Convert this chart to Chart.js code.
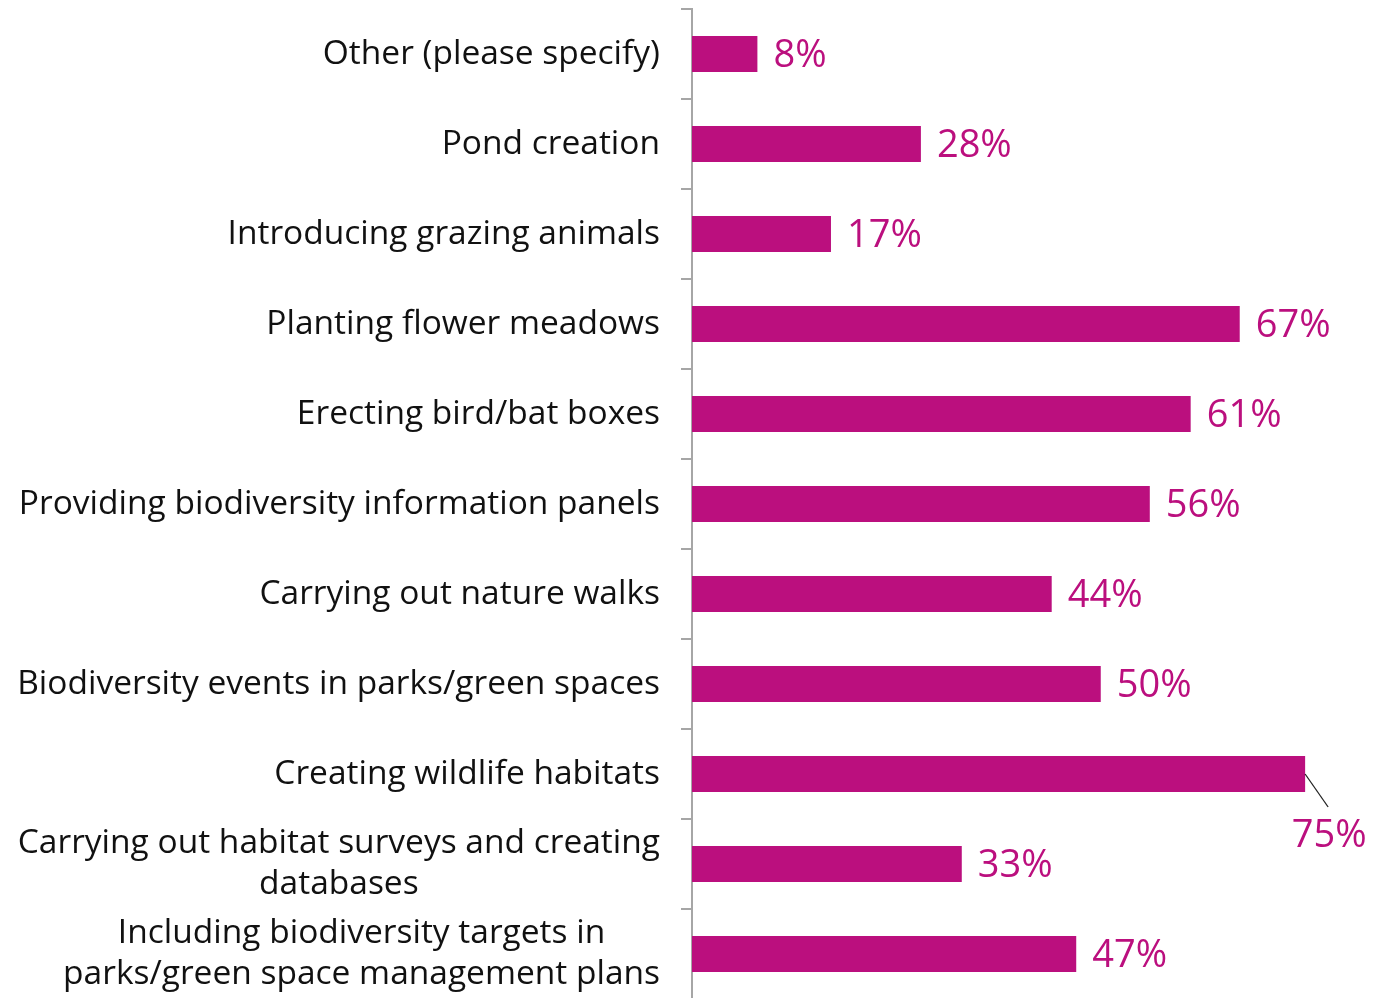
<!DOCTYPE html>
<html>
<head>
<meta charset="utf-8">
<script src="https://cdn.jsdelivr.net/npm/chart.js@4"></script>
<style>
  html, body { margin: 0; padding: 0; background: #fff; overflow: hidden; }
  #wrap { width: 1393px; height: 999px; position: relative; }
</style>
</head>
<body>
<div id="wrap"><canvas id="chart"></canvas></div>
<script>
/* data */
const categories = [
  ["Other (please specify)"],
  ["Pond creation"],
  ["Introducing grazing animals"],
  ["Planting flower meadows"],
  ["Erecting bird/bat boxes"],
  ["Providing biodiversity information panels"],
  ["Carrying out nature walks"],
  ["Biodiversity events in parks/green spaces"],
  ["Creating wildlife habitats"],
  ["Carrying out habitat surveys and creating", "databases"],
  ["Including biodiversity targets in", "parks/green space management plans"]
];
const values = [8, 28, 17, 67, 61, 56, 44, 50, 75, 33, 47];
const calloutIndex = 8; // the 75% label sits below the bar with a leader line

const MAGENTA = "#BB0F7E";
const AXIS = "#A6A6A6";
const FONT = "'Open Sans', 'Noto Sans', sans-serif";

/* draws category labels (multi-line centred) and value labels */
const labelsPlugin = {
  id: "labels",
  afterDatasetsDraw(chart) {
    const { ctx } = chart;
    const y = chart.scales.y;
    const meta = chart.getDatasetMeta(0);
    ctx.save();

    // category labels
    ctx.font = "33.5px " + FONT;
    ctx.fillStyle = "#111";
    ctx.textBaseline = "middle";
    ctx.textAlign = "center";
    const right = y.right - 32;
    const lh = 41;
    categories.forEach((lines, i) => {
      const cy = y.getPixelForValue(i);
      const w = Math.max(...lines.map(l => ctx.measureText(l).width));
      const cx = right - w / 2;
      const top = cy - (lines.length - 1) * lh / 2;
      lines.forEach((l, j) => ctx.fillText(l, cx, top + j * lh));
    });

    // value labels
    ctx.font = "38px " + FONT;
    ctx.fillStyle = MAGENTA;
    meta.data.forEach((bar, i) => {
      const txt = values[i] + "%";
      if (i === calloutIndex) {
        ctx.strokeStyle = "#222";
        ctx.lineWidth = 1.3;
        ctx.beginPath();
        ctx.moveTo(bar.x, bar.y);
        ctx.lineTo(bar.x + 23, bar.y + 33);
        ctx.stroke();
        ctx.textAlign = "center";
        ctx.fillText(txt, bar.x + 24, bar.y + 62);
      } else {
        ctx.textAlign = "left";
        ctx.fillText(txt, bar.x + 16, bar.y + 2);
      }
    });
    ctx.restore();
  }
};

new Chart(document.getElementById("chart"), {
  type: "bar",
  data: {
    labels: categories.map(c => c.join(" ")),
    datasets: [{
      data: values,
      backgroundColor: MAGENTA,
      borderWidth: 0,
      categoryPercentage: 1,
      barPercentage: 0.4
    }]
  },
  options: {
    indexAxis: "y",
    responsive: true,
    maintainAspectRatio: false,
    animation: false,
    layout: { padding: { top: 9, right: 47, bottom: 0, left: 0 } },
    plugins: { legend: { display: false }, tooltip: { enabled: false } },
    scales: {
      x: { display: false, min: 0, max: 80 },
      y: {
        ticks: { display: false },
        grid: {
          offset: true,
          drawOnChartArea: false,
          drawTicks: true,
          tickLength: 11,
          color: AXIS,
          lineWidth: 2
        },
        border: { display: true, color: AXIS, width: 2 },
        afterFit(scale) { scale.width = 692; }
      }
    }
  },
  plugins: [labelsPlugin]
});
</script>
</body>
</html>
